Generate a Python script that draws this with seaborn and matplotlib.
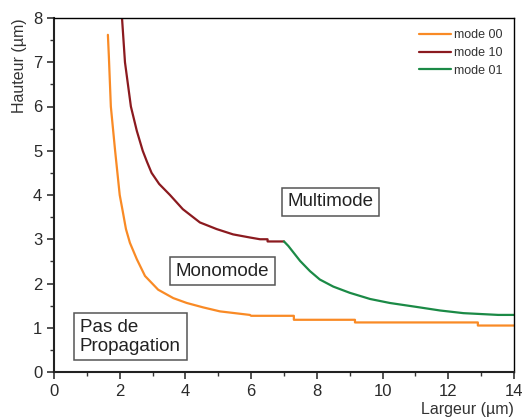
import numpy as np
import pandas as pd
import matplotlib
matplotlib.use("Agg")
import matplotlib.pyplot as plt
import seaborn as sns
from matplotlib.ticker import MultipleLocator

# data
mode00_x = [1.64, 1.67, 1.73, 1.86, 2.00, 2.08, 2.19, 2.31, 2.52, 2.77, 3.17, 3.63, 4.04, 4.54,
            5.05, 5.96, 6.00, 7.30, 7.30, 9.16, 9.16, 12.90, 12.90, 14.00]
mode00_y = [7.62, 7.13, 6.00, 5.00, 4.00, 3.68, 3.23, 2.92, 2.55, 2.17, 1.86, 1.67, 1.56, 1.46,
            1.37, 1.29, 1.27, 1.27, 1.18, 1.18, 1.12, 1.12, 1.05, 1.05]

mode10_x = [2.03, 2.07, 2.16, 2.25, 2.34, 2.52, 2.70, 2.83, 2.97, 3.20, 3.53, 3.92, 4.44, 4.95,
            5.45, 5.96, 6.27, 6.50, 6.50, 7.00]
mode10_y = [8.40, 8.00, 7.00, 6.50, 6.00, 5.45, 5.00, 4.75, 4.50, 4.25, 4.00, 3.68, 3.38, 3.23,
            3.11, 3.04, 3.00, 3.00, 2.95, 2.95]

mode01_x = [7.00, 7.13, 7.49, 7.79, 8.09, 8.50, 9.00, 9.62, 10.22, 11.04, 11.75, 12.46, 13.52, 14.00]
mode01_y = [2.95, 2.85, 2.51, 2.28, 2.09, 1.93, 1.79, 1.65, 1.56, 1.47, 1.39, 1.33, 1.29, 1.29]

labels = ["mode 00", "mode 10", "mode 01"]
colors = ["#f98a25", "#8b1a1f", "#1b8a46"]

df = pd.concat([
    pd.DataFrame({"x": mode00_x, "y": mode00_y, "mode": labels[0]}),
    pd.DataFrame({"x": mode10_x, "y": mode10_y, "mode": labels[1]}),
    pd.DataFrame({"x": mode01_x, "y": mode01_y, "mode": labels[2]}),
], ignore_index=True)

sns.set_style("ticks")
plt.rcParams["font.family"] = ["Liberation Sans", "DejaVu Sans"]

fig = plt.figure(figsize=(5.22, 4.18), dpi=100)
ax = fig.add_axes([54 / 522, 1 - 372 / 418, 460 / 522, 354 / 418])

sns.lineplot(data=df, x="x", y="y", hue="mode", palette=colors, sort=False,
             estimator=None, linewidth=1.6, ax=ax)

ax.set_xlim(0, 14)
ax.set_ylim(0, 8)
ax.xaxis.set_major_locator(MultipleLocator(2))
ax.xaxis.set_minor_locator(MultipleLocator(1))
ax.yaxis.set_major_locator(MultipleLocator(1))
ax.yaxis.set_minor_locator(MultipleLocator(0.5))
ax.tick_params(which="major", direction="out", length=5, width=1.2, labelsize=12,
               labelcolor="#2a2a2a", color="#333333")
ax.tick_params(which="minor", direction="out", length=3, width=1.0, color="#333333")

for side in ["left", "bottom"]:
    ax.spines[side].set_linewidth(1.5)
    ax.spines[side].set_color("#222222")
for side in ["top", "right"]:
    ax.spines[side].set_linewidth(1.0)
    ax.spines[side].set_color("black")

ax.set_xlabel("Largeur (µm)", loc="right", fontsize=11.5, color="#333333", labelpad=2)
ax.set_ylabel("Hauteur (µm)", loc="top", fontsize=11.5, color="#333333", labelpad=4)

leg = ax.legend(loc="upper right", frameon=False, fontsize=9, handlelength=2.6,
                handletextpad=0.25, labelspacing=0.45, borderaxespad=0.5)
for t in leg.get_texts():
    t.set_color("#333333")

box = dict(boxstyle="square,pad=0.3", facecolor="white", edgecolor="#555555", linewidth=1.1)
ax.text(7.10, 3.85, "Multimode", fontsize=13.5, color="#222222", ha="left", va="center", bbox=box)
ax.text(3.71, 2.28, "Monomode", fontsize=13.5, color="#222222", ha="left", va="center", bbox=box)
ax.text(0.79, 0.80, "Pas de\nPropagation", fontsize=13.5, color="#222222", ha="left", va="center",
        linespacing=1.15, bbox=box)

fig.savefig("out.png", dpi=100)
